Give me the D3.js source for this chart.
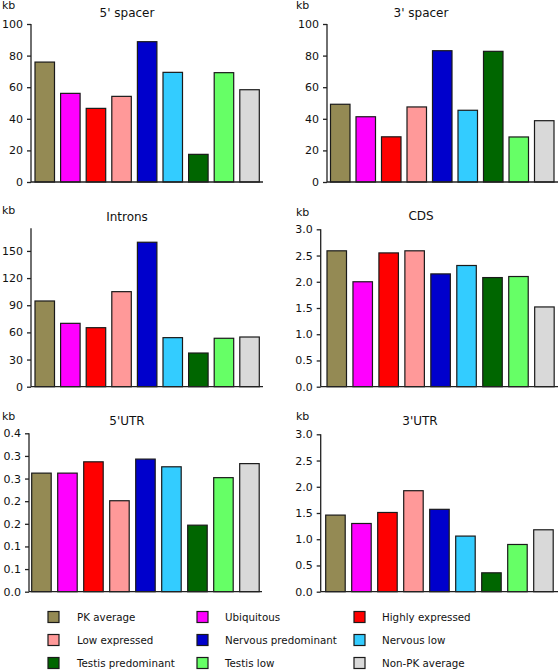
<!DOCTYPE html>
<html><head><meta charset="utf-8">
<script src="https://cdn.jsdelivr.net/npm/d3@7"></script>
<style>body{margin:0;background:#fff}svg{display:block}text{font-family:"DejaVu Sans",sans-serif;fill:#111}</style>
</head><body>
<script>
const categories = ["PK average","Ubiquitous","Highly expressed","Low expressed","Nervous predominant","Nervous low","Testis predominant","Testis low","Non-PK average"];
const colors = ["#948A54","#FF00FF","#FF0000","#FF9999","#0000CC","#33CCFF","#006600","#66FF66","#D9D9D9"];
const spacer5 = [75.9,56.1,46.6,54.2,88.8,69.4,17.5,69.2,58.4];
const spacer3 = [49.2,41.3,28.6,47.5,83.1,45.4,82.7,28.5,38.8];
const introns = [94.7,70.0,65.2,105.0,159.6,54.2,37.2,53.5,54.9];
const cds = [2.59,2.00,2.55,2.59,2.15,2.31,2.08,2.10,1.52];
const utr5 = [0.262,0.262,0.287,0.201,0.293,0.276,0.147,0.252,0.283];
const utr3 = [1.46,1.30,1.51,1.925,1.57,1.06,0.36,0.90,1.18];
const titles = ["5' spacer","3' spacer","Introns","CDS","5'UTR","3'UTR"];
const ticks100 = [0,20,40,60,80,100];
const ticksIntrons = [0,30,60,90,120,150];
const ticks3 = [0,0.5,1,1.5,2,2.5,3];
const ticks3Labels = ["0.0","0.5","1.0","1.5","2.0","2.5","3.0"];
const ticksUtr5 = [0,0.05,0.1,0.15,0.2,0.25,0.3,0.35];
const ticksUtr5Labels = ["0.0","0.1","0.1","0.2","0.2","0.3","0.3","0.4"];

const panels = [
  {title:titles[0], values:spacer5, max:100, ticks:ticks100, labels:null, ax:31, axEnd:263, bx:35, step:25.6, y0:182, y1:24, cx:127, ty:17, kbx:2, kby:9},
  {title:titles[1], values:spacer3, max:100, ticks:ticks100, labels:null, ax:327, axEnd:558, bx:330.5, step:25.5, y0:182, y1:24, cx:421, ty:17, kbx:296, kby:9},
  {title:titles[2], values:introns, max:175, ticks:ticksIntrons, labels:null, ax:31, axEnd:263, bx:35, step:25.6, y0:386.7, y1:228.3, cx:127, ty:221, kbx:2, kby:214},
  {title:titles[3], values:cds, max:3, ticks:ticks3, labels:ticks3Labels, ax:320.7, axEnd:558, bx:327, step:25.96, y0:386.7, y1:229.3, cx:421, ty:220, kbx:296, kby:216},
  {title:titles[4], values:utr5, max:0.35, ticks:ticksUtr5, labels:ticksUtr5Labels, ax:29, axEnd:262, bx:31.7, step:26, y0:591.7, y1:433.3, cx:127, ty:425, kbx:2, kby:420},
  {title:titles[5], values:utr3, max:3, ticks:ticks3, labels:ticks3Labels, ax:320.7, axEnd:558, bx:325.7, step:26, y0:591.7, y1:434.3, cx:420, ty:425, kbx:296, kby:420}
];

const W=558,H=670;
const svg = d3.select("body").append("svg").attr("width",W).attr("height",H);
const bw = 19.5;

panels.forEach(p=>{
  const g = svg.append("g");
  const pi = 1 - bw/p.step;
  const x = d3.scaleBand().domain(categories).range([p.bx, p.bx + p.step*(categories.length - pi)]).paddingInner(pi).paddingOuter(0);
  const y = d3.scaleLinear().domain([0,p.max]).range([p.y0,p.y1]);
  g.selectAll("rect").data(p.values).join("rect")
    .attr("x",(d,i)=>x(categories[i])).attr("width",x.bandwidth())
    .attr("y",d=>y(d)).attr("height",d=>y(0)-y(d))
    .attr("fill",(d,i)=>colors[i]).attr("stroke","#1a1a1a").attr("stroke-width",1.2);
  const axis = d3.axisLeft(y).tickValues(p.ticks).tickSize(4).tickPadding(4)
    .tickFormat((d,i)=> p.labels ? p.labels[i] : d3.format("d")(d));
  const ag = g.append("g").attr("transform",`translate(${p.ax},0)`).call(axis);
  ag.select(".domain").remove();
  ag.selectAll("line").attr("stroke","#222").attr("stroke-width",1.3);
  ag.selectAll("text").attr("font-size",11).style("font-family","DejaVu Sans").attr("fill","#111");
  g.append("line").attr("x1",p.ax).attr("x2",p.ax).attr("y1",y(0)).attr("y2",p.y1).attr("stroke","#222").attr("stroke-width",1.3);
  g.append("line").attr("x1",p.ax).attr("x2",p.axEnd).attr("y1",y(0)).attr("y2",y(0)).attr("stroke","#222").attr("stroke-width",1.3);
  g.append("text").attr("x",p.cx).attr("y",p.ty).attr("text-anchor","middle").attr("font-size",12).text(p.title);
  g.append("text").attr("x",p.kbx).attr("y",p.kby).attr("font-size",11).text("kb");
});

const legX = [48,197,354], legTx=[77,225,382], legY=[617,640,663];
const lg = svg.append("g");
categories.forEach((c,i)=>{
  const col = i%3, row = Math.floor(i/3);
  lg.append("rect").attr("x",legX[col]).attr("y",legY[row]-5.5).attr("width",11).attr("height",11)
    .attr("fill",colors[i]).attr("stroke","#1a1a1a").attr("stroke-width",1.2);
  lg.append("text").attr("x",legTx[col]).attr("y",legY[row]+4).attr("font-size",10.3).text(c);
});
</script>
</body></html>
